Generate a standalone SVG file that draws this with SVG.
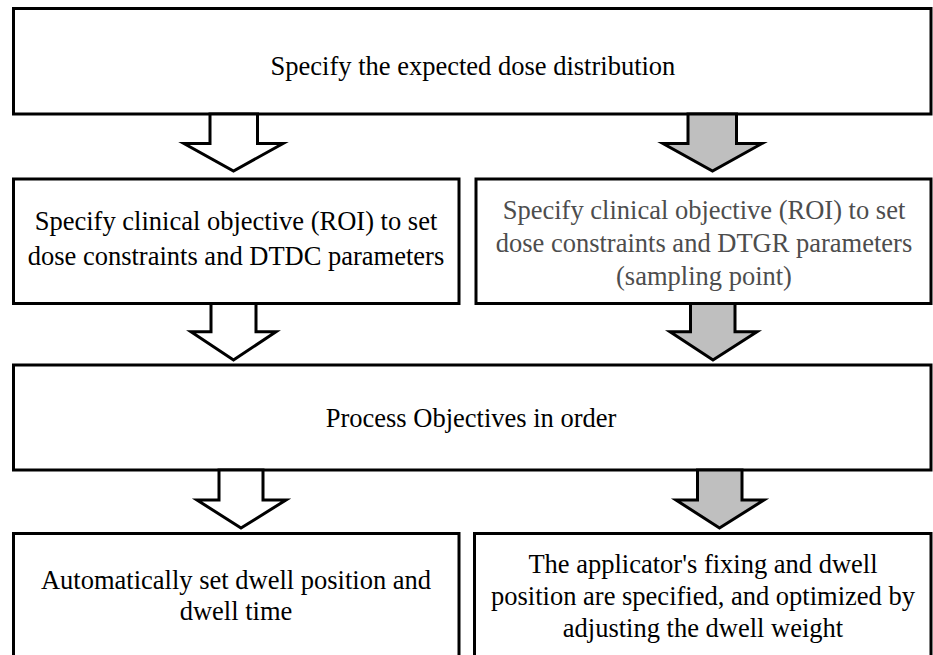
<svg xmlns="http://www.w3.org/2000/svg" width="933" height="655" viewBox="0 0 933 655">
<style>
.box{fill:#fff;stroke:#000;stroke-width:3}
.aw{fill:#fff;stroke:#000;stroke-width:3;stroke-linejoin:miter}
.ag{fill:#bfbfbf;stroke:#000;stroke-width:3;stroke-linejoin:miter}
text{font-size:26.5px;fill:#000;text-anchor:middle}
.gray{fill:#4d4d4d}
</style>
<rect width="933" height="655" fill="#fff"/>
<g font-family="'Liberation Serif', 'DejaVu Serif', serif">
<g id="n1"><rect class="box" x="13.5" y="8.5" width="917.5" height="105.5"/><text x="473" y="75">Specify the expected dose distribution</text></g>
<g id="n2"><rect class="box" x="13.5" y="179" width="445.5" height="124.5"/><text x="236" y="230">Specify clinical objective (ROI) to set</text><text x="236" y="265">dose constraints and DTDC parameters</text></g>
<g id="n3"><rect class="box" x="476" y="179" width="455" height="124.5"/><text class="gray" x="704" y="219">Specify clinical objective (ROI) to set</text><text class="gray" x="704" y="252">dose constraints and DTGR parameters</text><text class="gray" x="704" y="285">(sampling point)</text></g>
<g id="n4"><rect class="box" x="13.5" y="365" width="917.5" height="105"/><text x="471" y="427">Process Objectives in order</text></g>
<g id="n5"><rect class="box" x="13.5" y="533.5" width="445.5" height="140"/><text x="236" y="589">Automatically set dwell position and</text><text x="236" y="620">dwell time</text></g>
<g id="n6"><rect class="box" x="474.5" y="533.5" width="456.5" height="140"/><text x="703" y="573">The applicator's fixing and dwell</text><text x="703" y="605">position are specified, and optimized by</text><text x="703" y="637">adjusting the dwell weight</text></g>
</g>
<g id="connectors">
<polygon class="aw" points="210,114 210,143.5 184,143.5 233.5,171 283,143.5 257.5,143.5 257.5,114"/>
<polygon class="ag" points="688,114 688,143.5 663,143.5 712.5,171 762,143.5 736.5,143.5 736.5,114"/>
<polygon class="aw" points="211,303.5 211,331.7 191,331.7 233.5,360 276,331.7 256,331.7 256,303.5"/>
<polygon class="ag" points="690.5,303.5 690.5,331.7 670,331.7 713,360 757,331.7 735,331.7 735,303.5"/>
<polygon class="aw" points="219,470 219,500 197,500 241,528 286,500 263,500 263,470"/>
<polygon class="ag" points="697.5,470 697.5,500 676,500 719.5,528 764,500 742,500 742,470"/>
</g>
</svg>
